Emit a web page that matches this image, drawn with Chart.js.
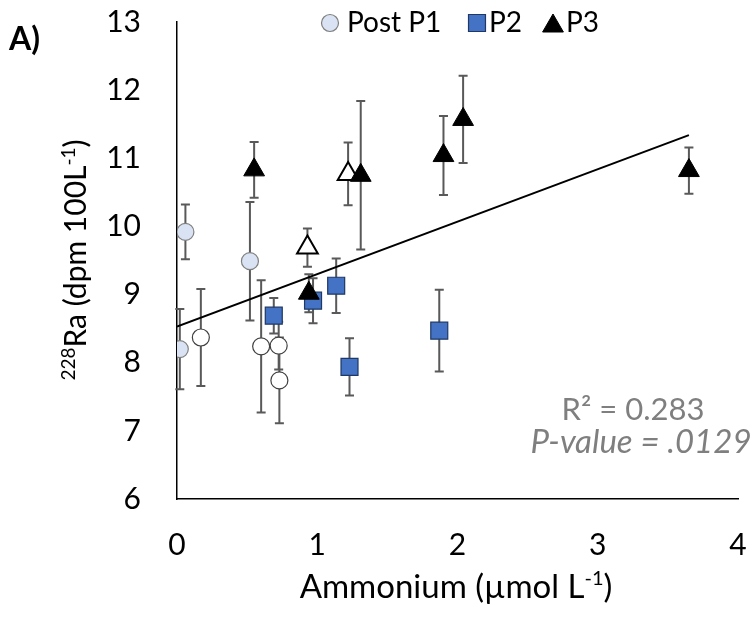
<!DOCTYPE html>
<html lang="en">
<head>
<meta charset="UTF-8">
<title>228Ra vs Ammonium</title>
<script src="https://cdn.jsdelivr.net/npm/chart.js"></script>
<style>
  html, body { margin: 0; padding: 0; background: #fff; }
  #wrap { width: 752px; height: 617px; }
</style>
</head>
<body>
<div id="wrap"><canvas id="raChart" width="752" height="617"></canvas></div>

<script>
// ammonium (x), 228Ra activity (y) and +/- error for each group of stations
const postP1X = [0.02, 0.06, 0.52];
const postP1Y = [8.20, 9.92, 9.49];
const postP1Err = [0.59, 0.40, 0.87];

const p1X = [0.17, 0.60, 0.725, 0.73];
const p1Y = [8.37, 8.24, 8.25, 7.74];
const p1Err = [0.71, 0.97, 0.35, 0.63];

const p2X = [0.69, 0.97, 1.135, 1.23, 1.87];
const p2Y = [8.69, 8.91, 9.13, 7.94, 8.47];
const p2Err = [0.26, 0.33, 0.40, 0.42, 0.60];

const p3X = [0.55, 0.94, 1.31, 1.90, 2.04, 3.65];
const p3Y = [10.83, 9.02, 10.75, 11.04, 11.57, 10.82];
const p3Err = [0.41, 0.28, 1.09, 0.58, 0.64, 0.34];

const p3OpenX = [0.93, 1.22];
const p3OpenY = [9.69, 10.77];
const p3OpenErr = [0.28, 0.46];

// linear fit
const fitIntercept = 8.53;
const fitSlope = 0.77;
const fitXRange = [0, 3.65];
const rSquared = '0.283';
const pValue = '.0129';

const xTicks = [0, 1, 2, 3, 4];
const yTicks = [6, 7, 8, 9, 10, 11, 12, 13];

const FONT = 'Lato';

function pts(xs, ys) {
  return xs.map((x, i) => ({ x: x, y: ys[i] }));
}

// draws text with superscript pieces, centred on x, y = baseline
function drawRich(ctx, parts, x, y, size) {
  const supSize = Math.round(size * 0.62);
  const fontFor = sup => `${sup ? supSize : size}px ${FONT}`;
  let total = 0;
  parts.forEach(([t, sup]) => { ctx.font = fontFor(sup); total += ctx.measureText(t).width; });
  let cx = x - total / 2;
  ctx.textAlign = 'left';
  ctx.textBaseline = 'alphabetic';
  parts.forEach(([t, sup]) => {
    ctx.font = fontFor(sup);
    ctx.fillText(t, cx, sup ? y - size * 0.38 : y);
    cx += ctx.measureText(t).width;
  });
}

const errorBars = {
  id: 'errorBars',
  beforeDatasetsDraw(chart) {
    const { ctx, scales: { x, y } } = chart;
    ctx.save();
    ctx.strokeStyle = '#595959';
    ctx.lineWidth = 2;
    chart.data.datasets.forEach(ds => {
      if (!ds.errors) return;
      ds.data.forEach((p, i) => {
        const px = x.getPixelForValue(p.x);
        const top = y.getPixelForValue(p.y + ds.errors[i]);
        const bot = y.getPixelForValue(p.y - ds.errors[i]);
        ctx.beginPath();
        ctx.moveTo(px, top); ctx.lineTo(px, bot);
        ctx.moveTo(px - 4.5, top); ctx.lineTo(px + 4.5, top);
        ctx.moveTo(px - 4.5, bot); ctx.lineTo(px + 4.5, bot);
        ctx.stroke();
      });
    });
    ctx.restore();
  }
};

const extras = {
  id: 'extras',
  afterDraw(chart) {
    const ctx = chart.ctx;
    ctx.save();
    ctx.fillStyle = '#000';

    // panel letter
    ctx.font = `bold 32px ${FONT}`;
    ctx.textAlign = 'left';
    ctx.textBaseline = 'alphabetic';
    ctx.fillText('A)', 9, 50);

    // axis titles
    drawRich(ctx, [['Ammonium (µmol L', false], ['-1', true], [')', false]], 456, 598, 33);
    ctx.save();
    ctx.translate(86, 260);
    ctx.rotate(-Math.PI / 2);
    drawRich(ctx, [['228', true], ['Ra (dpm 100L', false], ['-1', true], [')', false]], 0, 0, 30);
    ctx.restore();

    // fit statistics
    ctx.fillStyle = '#7f7f7f';
    ctx.textAlign = 'center';
    ctx.font = `31px ${FONT}`;
    ctx.fillText('R² = ' + rSquared, 633, 420);
    ctx.font = `italic 33px ${FONT}`;
    ctx.fillText('P-value = ' + pValue, 641, 453);

    // legend
    const items = [
      { ds: chart.data.datasets[3], cx: 330, tx: 347 },
      { ds: chart.data.datasets[2], cx: 477, tx: 489 },
      { ds: chart.data.datasets[0], cx: 553, tx: 566 }
    ];
    ctx.textAlign = 'left';
    ctx.font = `28px ${FONT}`;
    items.forEach(it => {
      const ds = it.ds;
      ctx.fillStyle = ds.backgroundColor;
      ctx.strokeStyle = ds.borderColor;
      ctx.lineWidth = ds.borderWidth;
      Chart.helpers.drawPoint(ctx, {
        pointStyle: ds.pointStyle, radius: ds.pointRadius, rotation: 0, borderWidth: ds.borderWidth
      }, it.cx, ds.pointStyle === 'triangle' ? 26 : 23);
      ctx.fillStyle = '#000';
      ctx.fillText(ds.label, it.tx, 32);
    });
    ctx.restore();
  }
};

const tickFont = { family: FONT, size: 30 };

new Chart(document.getElementById('raChart'), {
  type: 'scatter',
  data: {
    datasets: [
      {
        label: 'P3', data: pts(p3X, p3Y), errors: p3Err,
        pointStyle: 'triangle', pointRadius: 12, backgroundColor: '#000', borderColor: '#000', borderWidth: 1
      },
      {
        label: 'P3 open', data: pts(p3OpenX, p3OpenY), errors: p3OpenErr,
        pointStyle: 'triangle', pointRadius: 12, backgroundColor: '#fff', borderColor: '#000', borderWidth: 2
      },
      {
        label: 'P2', data: pts(p2X, p2Y), errors: p2Err,
        pointStyle: 'rect', pointRadius: 12, backgroundColor: '#4472c4', borderColor: '#1f3864', borderWidth: 1.2
      },
      {
        label: 'Post P1', data: pts(postP1X, postP1Y), errors: postP1Err,
        pointStyle: 'circle', pointRadius: 8.5, backgroundColor: '#dae3f3', borderColor: '#7f7f7f', borderWidth: 1.2
      },
      {
        label: 'P1', data: pts(p1X, p1Y), errors: p1Err,
        pointStyle: 'circle', pointRadius: 8.5, backgroundColor: '#fff', borderColor: '#404040', borderWidth: 1.2
      },
      {
        label: 'Linear fit', type: 'line',
        data: fitXRange.map(x => ({ x: x, y: fitIntercept + fitSlope * x })),
        borderColor: '#000', borderWidth: 2, pointRadius: 0, fill: false
      }
    ]
  },
  options: {
    responsive: false,
    animation: false,
    devicePixelRatio: 1,
    layout: { padding: { top: 22, right: 12, left: 0, bottom: 0 } },
    plugins: { legend: { display: false }, tooltip: { enabled: false } },
    scales: {
      x: {
        type: 'linear',
        min: xTicks[0], max: xTicks[xTicks.length - 1],
        afterFit: s => { s.height = 118; s.paddingLeft = 0; s.paddingRight = 0; },
        afterBuildTicks: s => { s.ticks = xTicks.map(v => ({ value: v })); },
        grid: { color: 'rgba(0,0,0,0)', drawTicks: false },
        border: { color: '#000', width: 1.5 },
        ticks: { padding: 28, font: tickFont, color: '#000' }
      },
      y: {
        type: 'linear',
        min: yTicks[0], max: yTicks[yTicks.length - 1],
        afterFit: s => { s.width = 177; s.paddingTop = 0; s.paddingBottom = 0; },
        afterBuildTicks: s => { s.ticks = yTicks.map(v => ({ value: v })); },
        grid: { color: 'rgba(0,0,0,0)', drawTicks: false },
        border: { color: '#000', width: 1.5 },
        ticks: { padding: 36, font: tickFont, color: '#000' }
      }
    }
  },
  plugins: [errorBars, extras]
});
</script>
</body>
</html>
